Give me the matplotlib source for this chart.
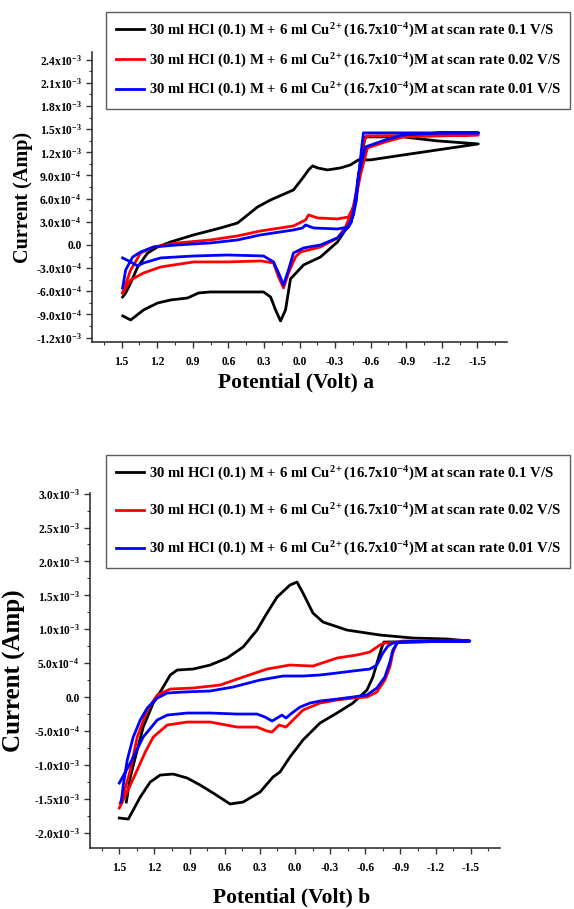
import numpy as np
import matplotlib
matplotlib.use("Agg")
import matplotlib.pyplot as plt
from matplotlib.ticker import MultipleLocator

plt.rcParams['font.family'] = ['Liberation Serif', 'DejaVu Serif']
plt.rcParams['font.weight'] = 'bold'
plt.rcParams['mathtext.fontset'] = 'custom'
plt.rcParams['mathtext.rm'] = 'Liberation Serif:bold'
plt.rcParams['mathtext.bf'] = 'Liberation Serif:bold'
plt.rcParams['mathtext.it'] = 'Liberation Serif:bold:italic'
plt.rcParams['mathtext.default'] = 'bf'

SCALE = 1e-4  # currents below are in units of 1e-4 A

LABELS = [
    r"30 ml HCl (0.1) M + 6 ml Cu$^{2+}$(16.7x10$^{-4}$)M at scan rate 0.1 V/S",
    r"30 ml HCl (0.1) M + 6 ml Cu$^{2+}$(16.7x10$^{-4}$)M at scan rate 0.02 V/S",
    r"30 ml HCl (0.1) M + 6 ml Cu$^{2+}$(16.7x10$^{-4}$)M at scan rate 0.01 V/S",
]
COLORS = ['black', 'red', 'blue']

# ---- panel a ----
a_black_v = [1.49, 1.424, 1.315, 1.197, 1.087, 0.944, 0.851, 0.750, 0.303, 0.244, 0.202, 0.160,
             0.118, 0.076, -0.034, -0.177, -0.320, -0.404, -0.472, -0.497, -0.531, -0.556, -0.598,
             -0.876, -1.163, -1.508, -1.163, -0.876, -0.598, -0.497, -0.430, -0.346, -0.236,
             -0.152, -0.110, -0.076, -0.034, 0.051, 0.244, 0.354, 0.522, 0.666, 0.893, 1.087,
             1.197, 1.281, 1.365, 1.424, 1.466, 1.492]
a_black_i = [-9.2, -9.72, -8.42, -7.52, -7.13, -6.87, -6.22, -6.09, -6.09, -6.74, -8.42, -9.85,
             -8.42, -4.4, -2.59, -1.56, 0.39, 2.33, 5.44, 8.81, 12.31, 14.0, 14.0,
             14.0, 13.48, 13.09, 12.31, 11.66, 11.02, 11.02, 10.37, 9.98, 9.72,
             9.98, 10.24, 9.72, 8.81, 7.13, 5.83, 4.92, 2.85, 2.20, 1.30, 0.39,
             -0.26, -1.04, -2.85, -4.92, -6.22, -6.74]

a_red_v = [1.492, 1.424, 1.315, 1.171, 0.893, 0.607, 0.329, 0.219, 0.177, 0.135, 0.093, 0.034,
           -0.008, -0.177, -0.320, -0.388, -0.447, -0.489, -0.514, -0.539, -0.565, -1.508,
           -0.876, -0.725, -0.573, -0.514, -0.464, -0.413, -0.320, -0.152, -0.076, -0.051,
           0.051, 0.329, 0.522, 0.750, 1.028, 1.230, 1.340, 1.424, 1.492]
a_red_i = [-6.22, -4.54, -3.63, -2.85, -2.20, -2.20, -2.07, -2.33, -4.15, -5.57, -3.63, -1.56,
           -0.91, -0.26, 0.91, 2.33, 4.54, 7.52, 10.63, 13.22, 14.13, 14.26,
           14.0, 13.35, 12.57, 9.07, 5.18, 3.63, 3.37, 3.50, 3.89, 3.24,
           2.46, 1.81, 1.17, 0.65, 0.26, -0.26, -1.04, -3.24, -6.22]

a_blue_v = [1.492, 1.424, 1.365, 1.315, 1.171, 0.893, 0.607, 0.303, 0.219, 0.177, 0.135, 0.093,
            0.051, -0.034, -0.177, -0.320, -0.404, -0.455, -0.480, -0.497, -0.522, -0.539,
            -1.508, -1.188, -0.876, -0.725, -0.556, -0.497, -0.464, -0.438, -0.413, -0.320,
            -0.118, -0.051, -0.025, 0.051, 0.329, 0.522, 0.750, 1.028, 1.230, 1.340, 1.407,
            1.466, 1.492]
a_blue_i = [-1.68, -2.20, -2.72, -2.33, -1.68, -1.43, -1.30, -1.43, -2.20, -3.63, -5.18, -3.24,
            -1.04, -0.39, 0.0, 0.91, 2.20, 3.89, 5.83, 8.81, 12.31, 14.52,
            14.52, 14.52, 14.26, 13.61, 12.70, 9.07, 5.18, 2.98, 2.33, 2.07,
            2.20, 2.59, 2.20, 1.94, 1.30, 0.65, 0.26, 0.0, -0.26, -0.91, -1.56,
            -3.24, -5.57]

# ---- panel b ----
b_black_v = [1.500, 1.423, 1.381, 1.321, 1.236, 1.151, 1.040, 0.920, 0.810, 0.699, 0.554, 0.443,
             0.298, 0.188, 0.128, 0.043, -0.068, -0.213, -0.358, -0.494, -0.614, -0.665, -0.707,
             -0.742, -0.759, -1.492, -1.296, -1.006, -0.724, -0.443, -0.239, -0.153, -0.068,
             -0.017, 0.043, 0.153, 0.239, 0.324, 0.443, 0.580, 0.724, 0.869, 1.006, 1.065,
             1.125, 1.210, 1.296, 1.347, 1.406, 1.440]
b_black_i = [-17.85, -18.0, -16.67, -14.75, -12.54, -11.51, -11.36, -11.95, -12.98, -14.16, -15.78, -15.49,
             -14.01, -11.80, -11.06, -8.85, -6.34, -3.84, -2.36, -0.89, 1.03, 2.95, 5.46,
             7.38, 8.11, 8.26, 8.56, 8.70, 9.15, 9.88, 11.06, 12.39, 15.34,
             16.96, 16.52, 14.75, 12.39, 9.88, 7.38, 5.75, 4.72, 4.13, 3.98, 3.25,
             1.48, -0.89, -4.43, -7.82, -11.80, -15.49]

b_red_v = [1.500, 1.466, 1.406, 1.347, 1.278, 1.210, 1.091, 0.920, 0.724, 0.494, 0.324, 0.239,
           0.196, 0.136, 0.077, 0.017, -0.068, -0.213, -0.358, -0.494, -0.614, -0.699, -0.767,
           -0.810, -0.835, -0.869, -0.920, -1.492, -0.920, -0.767, -0.724, -0.639, -0.528,
           -0.358, -0.153, 0.043, 0.239, 0.443, 0.639, 0.869, 1.065, 1.176, 1.261, 1.347,
           1.406, 1.466, 1.492]
b_red_i = [-16.37, -15.19, -12.98, -10.77, -8.11, -5.90, -4.13, -3.69, -3.69, -4.43, -4.43, -5.02,
           -5.16, -4.13, -4.43, -3.39, -1.92, -0.89, -0.44, -0.15, 0.0, 0.74, 2.51,
           4.43, 6.49, 7.97, 8.26, 8.26, 8.11, 7.97, 7.67, 6.64, 6.20,
           5.75, 4.57, 4.72, 4.13, 2.95, 1.77, 1.33, 1.18, 0.30, -1.92, -5.90,
           -10.77, -14.46, -15.64]

b_blue_v = [1.500, 1.406, 1.296, 1.176, 1.091, 0.920, 0.724, 0.494, 0.324, 0.256, 0.196, 0.153,
            0.111, 0.077, 0.026, -0.043, -0.128, -0.213, -0.358, -0.494, -0.614, -0.699, -0.767,
            -0.810, -0.835, -0.878, -1.492, -0.920, -0.835, -0.793, -0.750, -0.699, -0.639,
            -0.494, -0.358, -0.213, -0.068, 0.102, 0.298, 0.528, 0.724, 0.955, 1.091, 1.176,
            1.261, 1.321, 1.381, 1.432, 1.466, 1.483]
b_blue_i = [-12.69, -9.74, -5.90, -3.39, -2.66, -2.36, -2.36, -2.51, -2.51, -2.95, -3.54, -3.10,
            -2.66, -3.10, -2.36, -1.48, -0.89, -0.59, -0.30, 0.0, 0.30, 1.33, 2.95,
            5.16, 6.93, 8.11, 8.26, 8.11, 7.97, 7.52, 6.49, 4.72, 4.13,
            3.84, 3.54, 3.25, 3.10, 3.10, 2.51, 1.48, 0.89, 0.74, 0.59, -0.15,
            -1.62, -3.39, -5.90, -9.29, -12.98, -15.49]

x_ticks = [1.5, 1.2, 0.9, 0.6, 0.3, 0.0, -0.3, -0.6, -0.9, -1.2, -1.5]
x_ticklabels = ['1.5', '1.2', '0.9', '0.6', '0.3', '0.0', '-0.3', '-0.6', '-0.9', '-1.2', '-1.5']

a_yticks = [-1.2e-3, -9e-4, -6e-4, -3e-4, 0.0, 3e-4, 6e-4, 9e-4, 1.2e-3, 1.5e-3, 1.8e-3, 2.1e-3, 2.4e-3]
a_yticklabels = [r'-1.2x10$^{-3}$', r'-9.0x10$^{-4}$', r'-6.0x10$^{-4}$', r'-3.0x10$^{-4}$', '0.0',
                 r'3.0x10$^{-4}$', r'6.0x10$^{-4}$', r'9.0x10$^{-4}$', r'1.2x10$^{-3}$',
                 r'1.5x10$^{-3}$', r'1.8x10$^{-3}$', r'2.1x10$^{-3}$', r'2.4x10$^{-3}$']

b_yticks = [-2e-3, -1.5e-3, -1e-3, -5e-4, 0.0, 5e-4, 1e-3, 1.5e-3, 2e-3, 2.5e-3, 3e-3]
b_yticklabels = [r'-2.0x10$^{-3}$', r'-1.5x10$^{-3}$', r'-1.0x10$^{-3}$', r'-5.0x10$^{-4}$', '0.0',
                 r'5.0x10$^{-4}$', r'1.0x10$^{-3}$', r'1.5x10$^{-3}$', r'2.0x10$^{-3}$',
                 r'2.5x10$^{-3}$', r'3.0x10$^{-3}$']


fig = plt.figure(figsize=(5.74, 9.09), dpi=100)
ax_a = fig.add_axes([0.1603, 0.6238, 0.7230, 0.3190])
ax_b = fig.add_axes([0.1568, 0.0671, 0.7143, 0.3905])


def style_axis(ax, yticks, yticklabels, ylim, yminor, xlabel, ylab_size, ylab_x, xlab_y):
    ax.set_xlim(1.75, -1.75)
    ax.set_ylim(*ylim)
    ax.set_xticks(x_ticks, x_ticklabels)
    ax.set_yticks(yticks, yticklabels)
    ax.xaxis.set_minor_locator(MultipleLocator(0.15))
    ax.yaxis.set_minor_locator(MultipleLocator(yminor))
    for side in ['top', 'right']:
        ax.spines[side].set_visible(False)
    for side in ['left', 'bottom']:
        ax.spines[side].set_linewidth(1.2)
        ax.spines[side].set_color('#333333')
    ax.tick_params(which='major', direction='out', length=4, width=1, labelsize=8.3, color='#333333')
    ax.tick_params(which='minor', direction='out', length=2.5, width=0.8, color='#333333')
    ax.tick_params(axis='x', pad=6)
    ax.set_ylabel('Current (Amp)', fontsize=ylab_size, fontweight='bold')
    ax.yaxis.set_label_coords(ylab_x, 0.5)
    ax.set_xlabel(xlabel, fontsize=15.5, fontweight='bold')
    ax.xaxis.set_label_coords(0.492, xlab_y)


def add_legend(ax, top_px, spacing):
    leg = ax.legend(loc='upper left', bbox_to_anchor=(106 / 574, 1 - top_px / 909),
                    bbox_transform=fig.transFigure, borderaxespad=0,
                    fontsize=10.6, frameon=True, fancybox=False, handlelength=1.9,
                    labelspacing=spacing, borderpad=0.65, handletextpad=0.35)
    leg.get_frame().set_edgecolor('#333333')
    leg.get_frame().set_linewidth(1.0)


panel_a = [(a_black_v, a_black_i), (a_red_v, a_red_i), (a_blue_v, a_blue_i)]
for (v, i), c, lab in zip(panel_a, COLORS, LABELS):
    ax_a.plot(v, np.array(i) * SCALE, color=c, lw=2, label=lab)
style_axis(ax_a, a_yticks, a_yticklabels, (-1.257e-3, 2.50e-3), 1.5e-4, 'Potential (Volt) a',
           14.5, -0.142, -0.105)
add_legend(ax_a, 12, 0.78)

panel_b = [(b_black_v, b_black_i), (b_red_v, b_red_i), (b_blue_v, b_blue_i)]
for (v, i), c, lab in zip(panel_b, COLORS, LABELS):
    ax_b.plot(v, np.array(i) * SCALE, color=c, lw=2, label=lab)
style_axis(ax_b, b_yticks, b_yticklabels, (-2.227e-3, 3.009e-3), 2.5e-4, 'Potential (Volt) b',
           18, -0.156, -0.112)
add_legend(ax_b, 455, 1.32)

fig.savefig('out.png', dpi=100)
